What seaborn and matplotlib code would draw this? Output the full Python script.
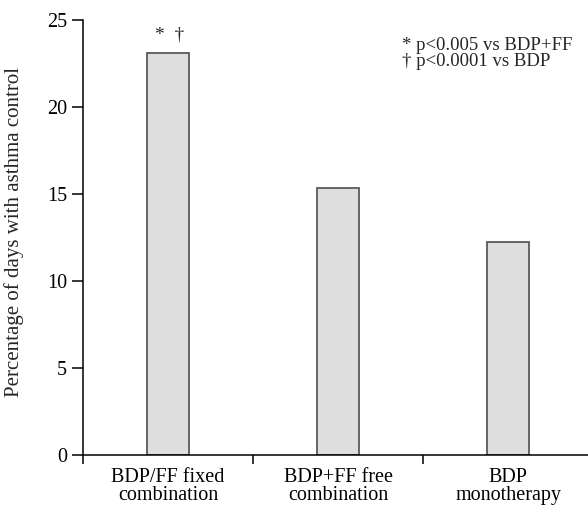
import matplotlib
matplotlib.use("Agg")
import matplotlib.pyplot as plt
import seaborn as sns
import pandas as pd

# --- data ---
categories = ['BDP/FF fixed\ncombination', 'BDP+FF free\ncombination', 'BDP\nmonotherapy']
pct_days_control = [23.1, 15.3, 12.2]
y_ticks = [0, 5, 10, 15, 20, 25]
sig_marks = ['*  \u2020', '', '']
footnotes = ['* p<0.005 vs BDP+FF', '\u2020 p<0.0001 vs BDP']

BAR_FILL = '#dedede'
BAR_EDGE = '#5a5a5a'


def set_style():
    sns.set_style('ticks')
    plt.rcParams['font.family'] = ['Liberation Serif', 'DejaVu Serif']
    plt.rcParams.update({
        'axes.linewidth': 1.1,
        'xtick.major.width': 1.1, 'ytick.major.width': 1.1,
        'xtick.color': 'black', 'ytick.color': 'black',
        'axes.edgecolor': 'black',
    })


if __name__ == '__main__':
    set_style()
    df = pd.DataFrame({'group': categories, 'value': pct_days_control})

    fig = plt.figure(figsize=(5.88, 5.07), dpi=100)
    ax = fig.add_axes([83 / 588, 52 / 507, 505 / 588, 435.5 / 507])
    sns.barplot(data=df, x='group', y='value', ax=ax, color=BAR_FILL, saturation=1,
                width=0.25, edgecolor=BAR_EDGE, linewidth=1.3)

    # significance marks above bars
    for i, (v, mark) in enumerate(zip(pct_days_control, sig_marks)):
        if mark:
            ax.text(i + 0.01, v + 0.5, mark, ha='center', va='bottom', fontsize=14)

    ax.set_ylim(0, 25)
    ax.set_xlim(-0.5, 2.47)
    ax.set_yticks(y_ticks)
    ax.tick_params(axis='y', direction='out', length=8, pad=3.5, labelsize=14.5)

    # tick marks between categories, labels centred under the bars
    ax.set_xticks([-0.5, 0.5, 1.5])
    ax.set_xticklabels([])
    ax.set_xticks(range(len(categories)), minor=True)
    ax.set_xticklabels(categories, minor=True, fontsize=14.5, linespacing=0.92)
    ax.tick_params(axis='x', which='major', direction='out', length=6.5)
    ax.tick_params(axis='x', which='minor', length=0, pad=9.5)

    ax.set_xlabel('')
    ax.set_ylabel('Percentage of days with asthma control', fontsize=15)
    ax.yaxis.set_label_coords(-0.117, 0.513)
    sns.despine(ax=ax)

    fig.text(402 / 588, 1 - 45 / 507, footnotes[0], ha='left', va='center', fontsize=13.5)
    fig.text(402 / 588, 1 - 61 / 507, footnotes[1], ha='left', va='center', fontsize=13.5)

    fig.savefig('out.png', dpi=100)
